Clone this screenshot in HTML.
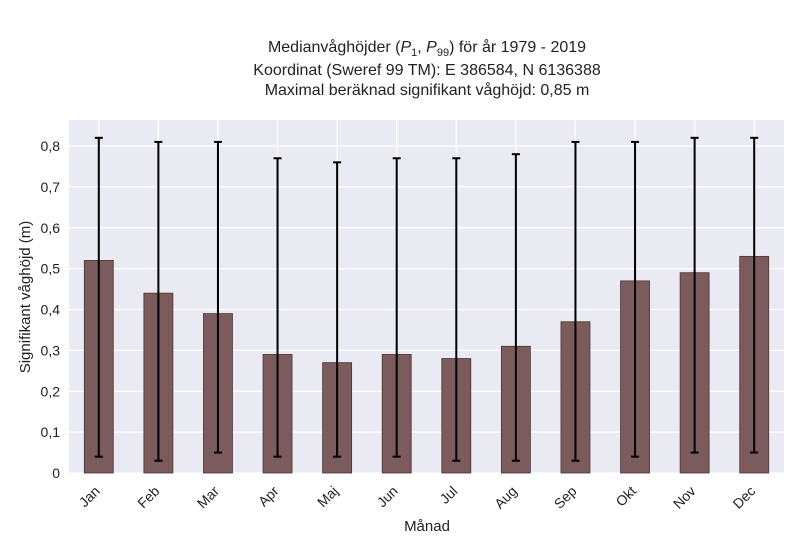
<!DOCTYPE html>
<html><head><meta charset="utf-8"><style>
body{margin:0;background:#fff;font-family:"Liberation Sans",sans-serif;}
</style></head><body>
<svg width="800" height="550" xmlns="http://www.w3.org/2000/svg" font-family="Liberation Sans, sans-serif">
<rect width="800" height="550" fill="#fff"/>
<g text-anchor="middle" font-size="16" fill="#222">
<text x="427" y="52">Medianvåghöjder (<tspan font-style="italic">P</tspan><tspan font-size="11" dy="4">1</tspan><tspan dy="-4">, </tspan><tspan font-style="italic">P</tspan><tspan font-size="11" dy="4">99</tspan><tspan dy="-4">) för år 1979 - 2019</tspan></text>
<text x="427" y="75">Koordinat (Sweref 99 TM): E 386584, N 6136388</text>
<text x="427" y="95">Maximal beräknad signifikant våghöjd: 0,85 m</text>
</g>
<rect x="69" y="120" width="715" height="353" fill="#eaeaf2"/>
<g id="grid"></g><g id="bars"></g><g id="axes"></g>
<text x="427" y="531" text-anchor="middle" font-size="15" fill="#222">Månad</text>
<text transform="translate(30,297) rotate(-90)" text-anchor="middle" font-size="15" fill="#222">Signifikant våghöjd (m)</text>
</svg>
<script>
const categories=["Jan","Feb","Mar","Apr","Maj","Jun","Jul","Aug","Sep","Okt","Nov","Dec"];
const medians=[0.52,0.44,0.39,0.29,0.27,0.29,0.28,0.31,0.37,0.47,0.49,0.53];
const upper=[0.82,0.81,0.81,0.77,0.76,0.77,0.77,0.78,0.81,0.81,0.82,0.82];
const lower=[0.04,0.03,0.05,0.04,0.04,0.04,0.03,0.03,0.03,0.04,0.05,0.05];
const yTicks=[0,0.1,0.2,0.3,0.4,0.5,0.6,0.7,0.8];
const yTickLabels=["0","0,1","0,2","0,3","0,4","0,5","0,6","0,7","0,8"];
const NS="http://www.w3.org/2000/svg";
const x0=69,x1=784,yb=473,ppu=408.75;
const step=(x1-x0)/categories.length;
const xs=i=>x0+step*(i+0.5);
const ys=v=>yb-v*ppu;
function mk(t,a,p){const e=document.createElementNS(NS,t);for(const k in a)e.setAttribute(k,a[k]);p.appendChild(e);return e;}
const grid=document.getElementById('grid'),bars=document.getElementById('bars'),axes=document.getElementById('axes');
yTicks.forEach((v,i)=>{
 const l=mk('line',{x1:x0,x2:x1,y1:ys(v),y2:ys(v),stroke:'#fff','stroke-width':1.2},grid);
 
 
 const t=mk('text',{x:x0-9,y:ys(v)+5,'text-anchor':'end','font-size':14,fill:'#222'},axes);
 t.textContent=yTickLabels[i];
 
 
});
categories.forEach((c,i)=>{
 const cx=xs(i);
 const g=mk('line',{x1:cx,x2:cx,y1:120,y2:yb,stroke:'#fff','stroke-width':1.2},grid);
 
 
 const b=mk('rect',{x:cx-14.5,y:ys(medians[i]),width:29,height:yb-ys(medians[i]),fill:'#7b5b5b',stroke:'#4a3434','stroke-width':0.8},bars);
 
 
 const e=mk('line',{x1:cx,x2:cx,y1:ys(upper[i]),y2:ys(lower[i]),stroke:'#000','stroke-width':2},bars);
 
 
 [upper[i],lower[i]].forEach(v=>{
  const cap=mk('line',{x1:cx-4,x2:cx+4,y1:ys(v),y2:ys(v),stroke:'#000','stroke-width':2},bars);
  
  
 });
 const t=mk('text',{x:cx+2,y:492,'text-anchor':'end','font-size':14,fill:'#222',transform:`rotate(-45 ${cx+2} 492)`},axes);
 t.textContent=c;
 
 
});
</script>
</body></html>
